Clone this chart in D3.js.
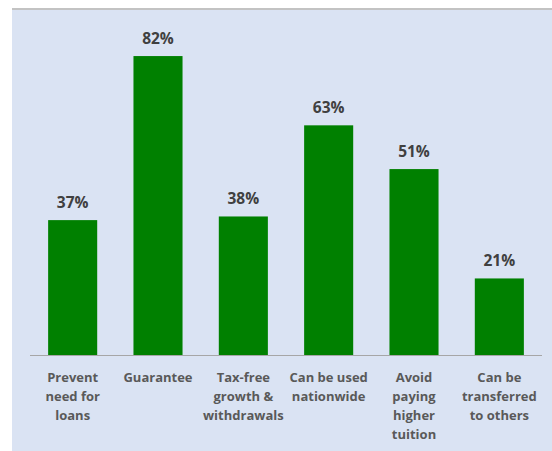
<!DOCTYPE html>
<html><head><meta charset="utf-8">
<script src="https://cdn.jsdelivr.net/npm/d3@7"></script>
<style>html,body{margin:0;padding:0;background:#fff;}svg{display:block;}</style>
</head><body>
<script>
const categories = [
  ["Prevent","need for","loans"],
  ["Guarantee"],
  ["Tax-free","growth &","withdrawals"],
  ["Can be used","nationwide"],
  ["Avoid","paying","higher","tuition"],
  ["Can be","transferred","to others"]
];
const values = [0.37, 0.82, 0.38, 0.63, 0.51, 0.21];

const W = 552, H = 451;
const svg = d3.select("body").append("svg").attr("width", W).attr("height", H);

svg.append("rect").attr("x", 12).attr("y", 8).attr("width", W - 12).attr("height", 2).attr("fill", "#c3c3c3");
svg.append("rect").attr("x", 12).attr("y", 10).attr("width", W - 12).attr("height", H - 10).attr("fill", "#dae3f3");

const idx = categories.map((d, i) => i);
const x = d3.scaleBand().domain(idx).range([30, 542]).paddingInner(0.425).paddingOuter(0.2125);
const y = d3.scaleLinear().domain([0, 0.9]).range([355, 26.9]);

svg.selectAll("rect.bar").data(values).join("rect").attr("class", "bar")
  .attr("x", (d, i) => x(i)).attr("width", x.bandwidth())
  .attr("y", d => y(d)).attr("height", d => y(0) - y(d))
  .attr("fill", "#008000");

svg.append("line").attr("x1", 30).attr("x2", 542).attr("y1", y(0) + 0.5).attr("y2", y(0) + 0.5)
  .attr("stroke", "#a6a6a6").attr("stroke-width", 1);

svg.selectAll("text.val").data(values).join("text").attr("class", "val")
  .attr("x", (d, i) => x(i) + x.bandwidth() / 2).attr("y", d => y(d) - 12)
  .attr("text-anchor", "middle").attr("font-family", "'Open Sans', sans-serif")
  .attr("font-weight", "bold").attr("font-size", "15.5px").attr("fill", "#404040")
  .text(d => d3.format(".0%")(d));

const g = svg.selectAll("text.cat").data(categories).join("text").attr("class", "cat")
  .attr("text-anchor", "middle").attr("font-family", "'Open Sans', sans-serif")
  .attr("font-weight", "bold").attr("font-size", "13px").attr("fill", "#595959");
g.each(function(lines, i) {
  const t = d3.select(this);
  lines.forEach((l, j) => {
    t.append("tspan").attr("x", x(i) + x.bandwidth() / 2).attr("y", 382 + j * 19).text(l);
  });
});
</script>
</body></html>
